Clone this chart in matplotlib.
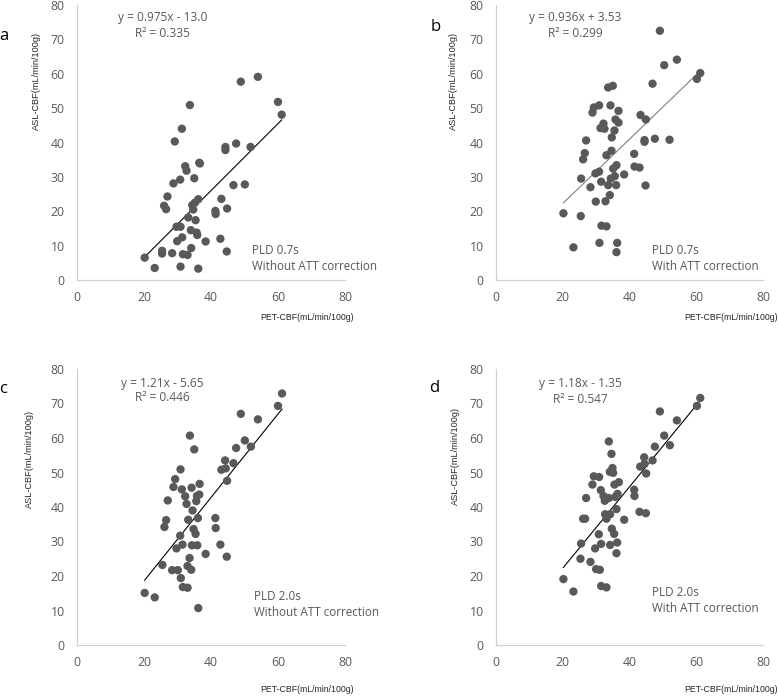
import matplotlib
matplotlib.use("Agg")
import matplotlib.pyplot as plt

# PET-CBF (x) and ASL-CBF (y)
pet_a = [20.2, 23.2, 25.4, 25.4, 26.0, 26.6, 27.0, 28.4, 28.8, 29.2, 29.7, 29.9, 30.8, 30.9,
         31.3, 30.9, 31.4, 31.6, 32.3, 32.7, 33.0, 33.2, 33.7, 34.1, 34.0, 34.4, 34.7, 35.0,
         35.2, 35.4, 35.7, 35.9, 36.2, 36.2, 36.5, 36.7, 38.4, 41.3, 41.4, 42.8, 43.1, 44.3,
         44.3, 44.8, 44.7, 46.7, 47.5, 48.9, 50.1, 51.8, 54.0, 60.0, 61.1]
asl_a = [6.5, 3.5, 8.5, 7.7, 21.6, 20.6, 24.3, 7.8, 28.1, 40.3, 15.5, 11.3, 29.2, 3.9,
         44.0, 15.5, 12.4, 7.5, 33.1, 31.8, 7.3, 18.2, 50.9, 9.3, 14.5, 21.8, 20.5, 29.6,
         22.5, 17.4, 13.8, 13.1, 3.3, 23.5, 34.1, 33.9, 11.2, 20.1, 19.2, 12.0, 23.6, 38.7,
         37.8, 20.8, 8.3, 27.6, 39.7, 57.7, 27.8, 38.7, 59.1, 51.8, 48.1]

pet_b = [20.2, 23.2, 25.4, 25.5, 26.1, 26.6, 27.0, 28.3, 28.9, 29.3, 29.8, 29.9, 30.9, 30.9,
         31.0, 31.3, 31.5, 31.6, 32.2, 32.5, 32.8, 33.1, 33.1, 33.6, 33.6, 34.1, 34.3, 34.4,
         34.6, 34.7, 35.0, 35.1, 35.5, 35.6, 35.8, 36.0, 36.1, 36.3, 36.1, 36.7, 36.7, 38.4,
         41.4, 41.5, 43.0, 43.3, 44.5, 44.5, 44.8, 44.9, 46.9, 47.6, 49.1, 50.4, 52.0, 54.2,
         60.2, 61.2]
asl_b = [19.4, 9.5, 18.6, 29.5, 35.1, 36.9, 40.6, 27.0, 48.7, 50.2, 31.0, 22.8, 50.8, 31.5,
         10.8, 44.2, 28.6, 15.8, 45.5, 44.0, 22.9, 15.6, 36.3, 56.0, 27.6, 24.7, 50.8, 29.5,
         37.6, 41.5, 56.5, 32.4, 43.5, 30.2, 46.7, 27.6, 33.4, 10.8, 8.1, 49.2, 45.8, 30.7,
         36.7, 33.0, 32.7, 48.0, 40.7, 40.2, 27.5, 46.7, 57.1, 41.1, 72.5, 62.5, 40.8, 64.1,
         58.5, 60.2]

pet_c = [20.2, 23.2, 25.5, 26.1, 26.6, 27.1, 28.4, 28.8, 29.3, 29.7, 30.1, 30.8, 30.9, 31.0,
         31.3, 31.5, 31.6, 32.3, 32.7, 33.0, 33.0, 33.2, 33.7, 33.6, 34.1, 34.2, 34.3, 34.5,
         34.8, 35.0, 35.4, 35.6, 35.8, 35.9, 36.1, 36.2, 36.6, 36.5, 38.4, 41.3, 41.4, 42.8,
         43.1, 44.2, 44.4, 44.8, 44.7, 46.7, 47.5, 48.9, 50.1, 51.9, 54.0, 60.0, 61.2]
asl_c = [15.1, 13.8, 23.2, 34.2, 36.2, 41.9, 21.7, 45.8, 48.1, 28.0, 21.7, 31.7, 50.9, 19.4,
         45.1, 29.1, 16.8, 43.1, 40.9, 16.6, 22.9, 36.3, 60.7, 25.2, 21.8, 45.6, 28.9, 39.0,
         33.6, 56.7, 32.2, 41.7, 43.2, 28.9, 36.8, 10.7, 46.7, 43.6, 26.4, 36.8, 33.9, 29.1,
         50.8, 53.5, 51.2, 47.6, 25.6, 52.7, 57.1, 67.0, 59.3, 57.5, 65.4, 69.3, 72.9]

pet_d = [20.2, 23.2, 25.3, 25.5, 26.1, 26.7, 27.0, 28.3, 28.9, 29.3, 29.7, 30.0, 30.8, 30.9,
         31.1, 31.4, 31.5, 31.5, 32.2, 32.6, 32.7, 33.1, 33.1, 33.8, 33.8, 34.1, 34.2, 34.2,
         34.6, 34.7, 34.9, 35.1, 35.4, 35.5, 35.7, 36.1, 36.1, 36.3, 36.4, 36.8, 38.4, 41.4,
         41.5, 43.0, 43.2, 44.4, 44.5, 44.9, 45.0, 46.9, 47.6, 49.1, 50.4, 52.1, 54.2, 60.2,
         61.2]
asl_d = [19.1, 15.5, 25.0, 29.4, 36.6, 36.6, 42.6, 24.1, 46.5, 48.9, 28.0, 22.0, 32.1, 48.7,
         21.8, 44.9, 29.3, 17.1, 43.2, 41.8, 37.9, 16.7, 36.6, 59.0, 42.6, 50.2, 37.9, 29.0,
         55.4, 33.7, 51.3, 49.9, 32.2, 46.5, 42.9, 39.4, 26.6, 29.7, 43.8, 47.2, 36.3, 45.0,
         43.2, 38.6, 51.7, 54.4, 52.5, 38.2, 49.7, 53.5, 57.5, 67.7, 60.7, 57.9, 65.1, 69.3,
         71.6]

panel_letters = ["a", "b", "c", "d"]
slopes = [0.975, 0.936, 1.21, 1.18]
intercepts = [-13.0, 3.53, -5.65, -1.35]
equations = ["y = 0.975x - 13.0", "y = 0.936x + 3.53", "y = 1.21x - 5.65", "y = 1.18x - 1.35"]
r_squared = ["0.335", "0.299", "0.446", "0.547"]
notes = ["PLD 0.7s\nWithout ATT correction", "PLD 0.7s\nWith ATT correction",
         "PLD 2.0s\nWithout ATT correction", "PLD 2.0s\nWith ATT correction"]
xticks = [0, 20, 40, 60, 80]
yticks = [0, 10, 20, 30, 40, 50, 60, 70, 80]

xs = [pet_a, pet_b, pet_c, pet_d]
ys = [asl_a, asl_b, asl_c, asl_d]

W, H = 779, 700
fig = plt.figure(figsize=(W / 100, H / 100), dpi=100)

# axes boxes in pixels: left, top, right, bottom
boxes = [(77, 5, 345, 280), (496, 5, 763, 280), (77, 369, 345, 645), (496, 369, 763, 645)]
line_colors = ["black", "#7f7f7f", "black", "black"]
eq_pos = [(0.32, 0.956, 0.898), (0.296, 0.956, 0.898), (0.317, 0.949, 0.896), (0.315, 0.949, 0.890)]
note_pos = [(0.653, 0.08), (0.584, 0.08), (0.66, 0.145), (0.584, 0.16)]
ylab_pos = [(36, 81), (453, 81), (29, 459), (455, 456)]
xlab_pos = [(307, 317), (731, 317), (307, 690), (731, 690)]
letter_pos = [(4, 36), (436, 27), (3, 389), (434, 388)]

gray = "#595959"
font = "Open Sans"

for i in range(4):
    l, t, r, b = boxes[i]
    ax = fig.add_axes([l / W, 1 - b / H, (r - l) / W, (b - t) / H])
    ax.scatter(xs[i], ys[i], s=36, color=gray, edgecolors="none", zorder=3)

    x0, x1 = min(xs[i]), max(xs[i])
    ax.plot([x0, x1], [slopes[i] * x0 + intercepts[i], slopes[i] * x1 + intercepts[i]],
            color=line_colors[i], lw=0.8, zorder=2)

    ax.set_xlim(0, 80)
    ax.set_ylim(0, 80)
    ax.set_xticks(xticks)
    ax.set_yticks(yticks)
    for s in ["top", "right"]:
        ax.spines[s].set_visible(False)
    for s in ["left", "bottom"]:
        ax.spines[s].set_color("#d0d0d0")
        ax.spines[s].set_linewidth(0.9)
    ax.tick_params(axis="x", length=0, pad=8, labelcolor=gray, labelsize=8.8)
    ax.tick_params(axis="y", length=0, pad=9, labelcolor=gray, labelsize=8.8)
    for lab in ax.get_xticklabels() + ax.get_yticklabels():
        lab.set_fontfamily(font)

    ex, ey1, ey2 = eq_pos[i]
    ax.text(ex, ey1, equations[i], transform=ax.transAxes, ha="center", va="center",
            color=gray, fontsize=8.6, family=font)
    ax.text(ex, ey2, "R² = " + r_squared[i], transform=ax.transAxes, ha="center", va="center",
            color=gray, fontsize=8.6, family=font)
    nx, ny = note_pos[i]
    ax.text(nx, ny, notes[i], transform=ax.transAxes, ha="left", va="center",
            color=gray, fontsize=8.4, family=font, linespacing=1.3)

    fig.text(ylab_pos[i][0] / W, 1 - ylab_pos[i][1] / H, "ASL-CBF(mL/min/100g)", rotation=90,
             ha="center", va="center", fontsize=6.6, family="Liberation Sans", color="#262626")
    fig.text(xlab_pos[i][0] / W, 1 - xlab_pos[i][1] / H, "PET-CBF(mL/min/100g)",
             ha="center", va="center", fontsize=6.3, family="Liberation Sans", color="#262626")
    fig.text(letter_pos[i][0] / W, 1 - letter_pos[i][1] / H, panel_letters[i],
             ha="center", va="center", fontsize=12, family=font, color="black")

fig.savefig("out.png", dpi=100)
